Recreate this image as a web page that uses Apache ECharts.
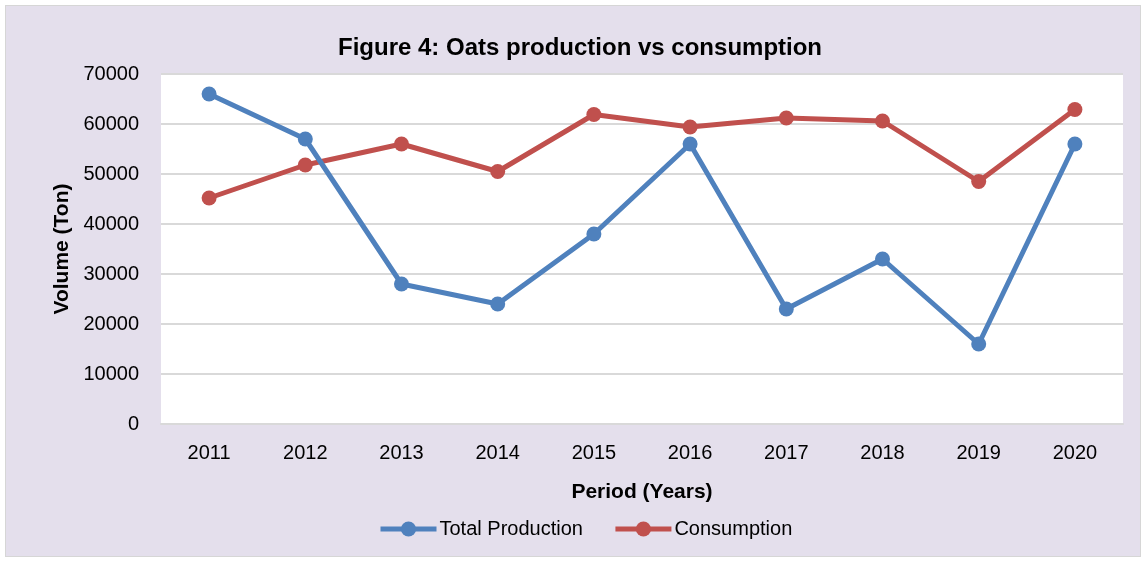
<!DOCTYPE html>
<html>
<head>
<meta charset="utf-8">
<script src="https://cdn.jsdelivr.net/npm/echarts@6/dist/echarts.min.js"></script>
<style>
  html, body { margin: 0; padding: 0; background: #ffffff; }
  #main {
    position: absolute; left: 5px; top: 5px;
    width: 1134px; height: 550px;
    border: 1px solid #d6d6d6;
    background: #e4dfec;
  }
</style>
</head>
<body>
<div id="main"></div>
<script>
// chart data
var years = ["2011", "2012", "2013", "2014", "2015", "2016", "2017", "2018", "2019", "2020"];
var production = [66000, 57000, 28000, 24000, 38000, 56000, 23000, 33000, 16000, 56000];
var consumption = [45200, 51800, 56000, 50500, 61900, 59400, 61200, 60600, 48500, 62900];
var yTicks = [0, 10000, 20000, 30000, 40000, 50000, 60000, 70000];

var narrow = "'Liberation Sans Narrow', 'Arial Narrow', 'Liberation Sans', sans-serif";

var chart = echarts.init(document.getElementById("main"));
chart.setOption({
  backgroundColor: "#e4dfec",
  animation: false,
  title: {
    text: "Figure 4: Oats production vs consumption",
    left: 569, top: 25, textAlign: "center",
    textStyle: { fontFamily: narrow, fontSize: 24, fontWeight: "bold", color: "#000" }
  },
  legend: {
    bottom: 12, left: 367,
    itemWidth: 56, itemHeight: 19, itemGap: 30,
    lineStyle: { width: 5 },
    textStyle: { fontFamily: narrow, fontSize: 20, color: "#000", padding: [0, 0, 0, -2] },
    data: ["Total Production", "Consumption"]
  },
  grid: { left: 155, right: 17, top: 68, bottom: 132, backgroundColor: "#ffffff", show: true, borderWidth: 0 },
  xAxis: {
    type: "category",
    data: years,
    boundaryGap: true,
    name: "Period (Years)",
    nameLocation: "middle",
    nameGap: 58,
    nameTextStyle: { fontFamily: narrow, fontSize: 21, fontWeight: "bold", color: "#000" },
    axisLine: { lineStyle: { color: "#d9d9d9", width: 2 } },
    axisTick: { show: false },
    axisLabel: { fontFamily: narrow, fontSize: 20, color: "#000", margin: 19 }
  },
  yAxis: {
    type: "value",
    min: 0, max: 70000, interval: 10000,
    name: "Volume (Ton)",
    nameLocation: "middle",
    nameGap: 84,
    nameTextStyle: { fontFamily: narrow, fontSize: 21, fontWeight: "bold", color: "#000" },
    axisLine: { show: false },
    axisTick: { show: false },
    splitLine: { lineStyle: { color: "#d9d9d9", width: 2 } },
    axisLabel: {
      fontFamily: narrow, fontSize: 20, color: "#000", margin: 22,
      formatter: function (v) { return yTicks.indexOf(v) >= 0 ? String(v) : ""; }
    }
  },
  series: [
    {
      name: "Total Production",
      type: "line",
      data: production,
      color: "#4f81bd",
      lineStyle: { width: 5, color: "#4f81bd" },
      symbol: "circle", symbolSize: 15,
      itemStyle: { color: "#4f81bd" },
      z: 3
    },
    {
      name: "Consumption",
      type: "line",
      data: consumption,
      color: "#c0504d",
      lineStyle: { width: 5, color: "#c0504d" },
      symbol: "circle", symbolSize: 15,
      itemStyle: { color: "#c0504d" },
      z: 2
    }
  ]
});
</script>
</body>
</html>
